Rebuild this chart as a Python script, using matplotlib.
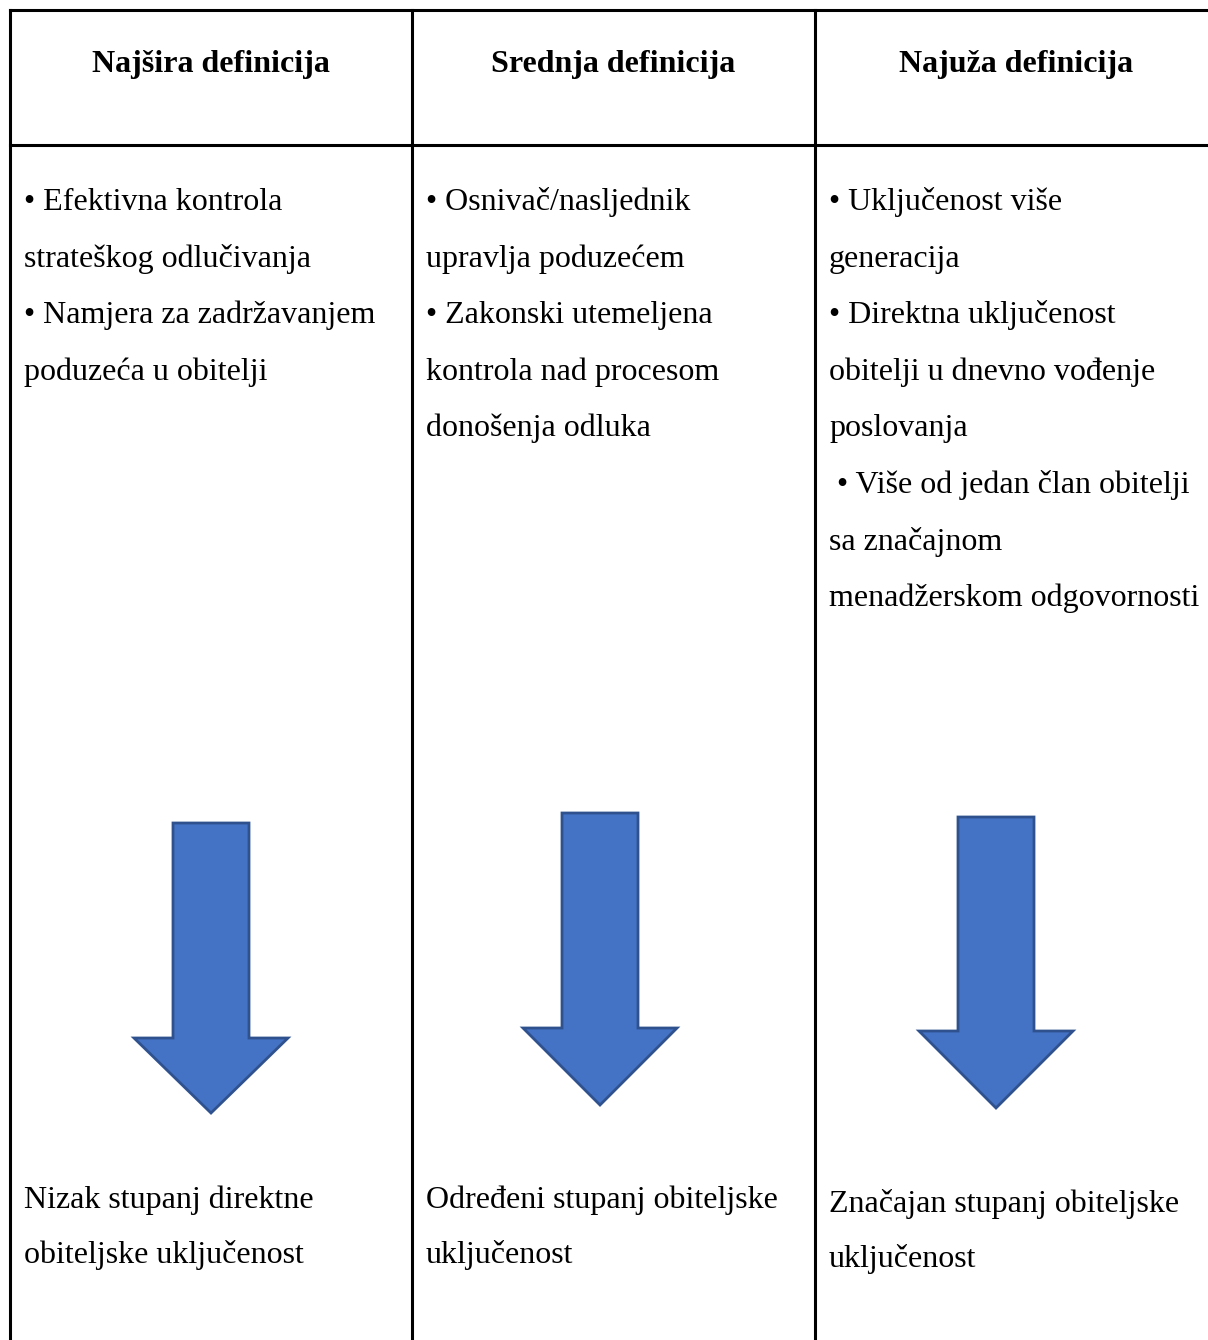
import matplotlib.pyplot as plt
from matplotlib.patches import Polygon

headers = ["Najšira definicija", "Srednja definicija", "Najuža definicija"]
opisi = [
    ["• Efektivna kontrola", "strateškog odlučivanja",
     "• Namjera za zadržavanjem", "poduzeća u obitelji"],
    ["• Osnivač/nasljednik", "upravlja poduzećem",
     "• Zakonski utemeljena", "kontrola nad procesom",
     "donošenja odluka"],
    ["• Uključenost više", "generacija",
     "• Direktna uključenost", "obitelji u dnevno vođenje",
     "poslovanja", " • Više od jedan član obitelji", "sa značajnom",
     "menadžerskom odgovornosti"],
]
zakljucci = [
    ["Nizak stupanj direktne", "obiteljske uključenost"],
    ["Određeni stupanj obiteljske", "uključenost"],
    ["Značajan stupanj obiteljske", "uključenost"],
]

W, H = 1208, 1340
fig = plt.figure(figsize=(W / 100, H / 100), dpi=100)
ax = fig.add_axes([0, 0, 1, 1])
ax.set_xlim(0, W)
ax.set_ylim(H, 0)
ax.axis("off")

serif = ["Liberation Serif", "DejaVu Serif"]
fs = 23
col_x = [10, 412, 815]
col_w = 402

# linije tablice
ax.plot([10, W], [10, 10], color="black", lw=2.2)
ax.plot([10, W], [145, 145], color="black", lw=2.2)
for x in col_x:
    ax.plot([x, x], [10, H], color="black", lw=2.2)

for i, x in enumerate(col_x):
    ax.text(x + col_w / 2, 72, headers[i], ha="center", va="baseline",
            fontsize=fs, fontweight="bold", family=serif)
    for j, line in enumerate(opisi[i]):
        ax.text(x + 14, 210 + j * 56.6, line, ha="left", va="baseline",
                fontsize=fs, family=serif)

# strelice: (centar, vrh, baza glave, vrh strelice)
arrows = [(211, 823, 1038, 1113), (600, 813, 1028, 1105), (996, 817, 1031, 1108)]
bottom_y = [1208, 1208, 1212]
for i, (cx, top, base, tip) in enumerate(arrows):
    sw, hw = 38, 77
    pts = [(cx - sw, top), (cx + sw, top), (cx + sw, base), (cx + hw, base),
           (cx, tip), (cx - hw, base), (cx - sw, base)]
    ax.add_patch(Polygon(pts, closed=True, facecolor="#4472C4",
                         edgecolor="#2F528F", lw=2))
    for j, line in enumerate(zakljucci[i]):
        ax.text(col_x[i] + 14, bottom_y[i] + j * 55.5, line, ha="left",
                va="baseline", fontsize=fs, family=serif)

fig.savefig("out.png", dpi=100)
